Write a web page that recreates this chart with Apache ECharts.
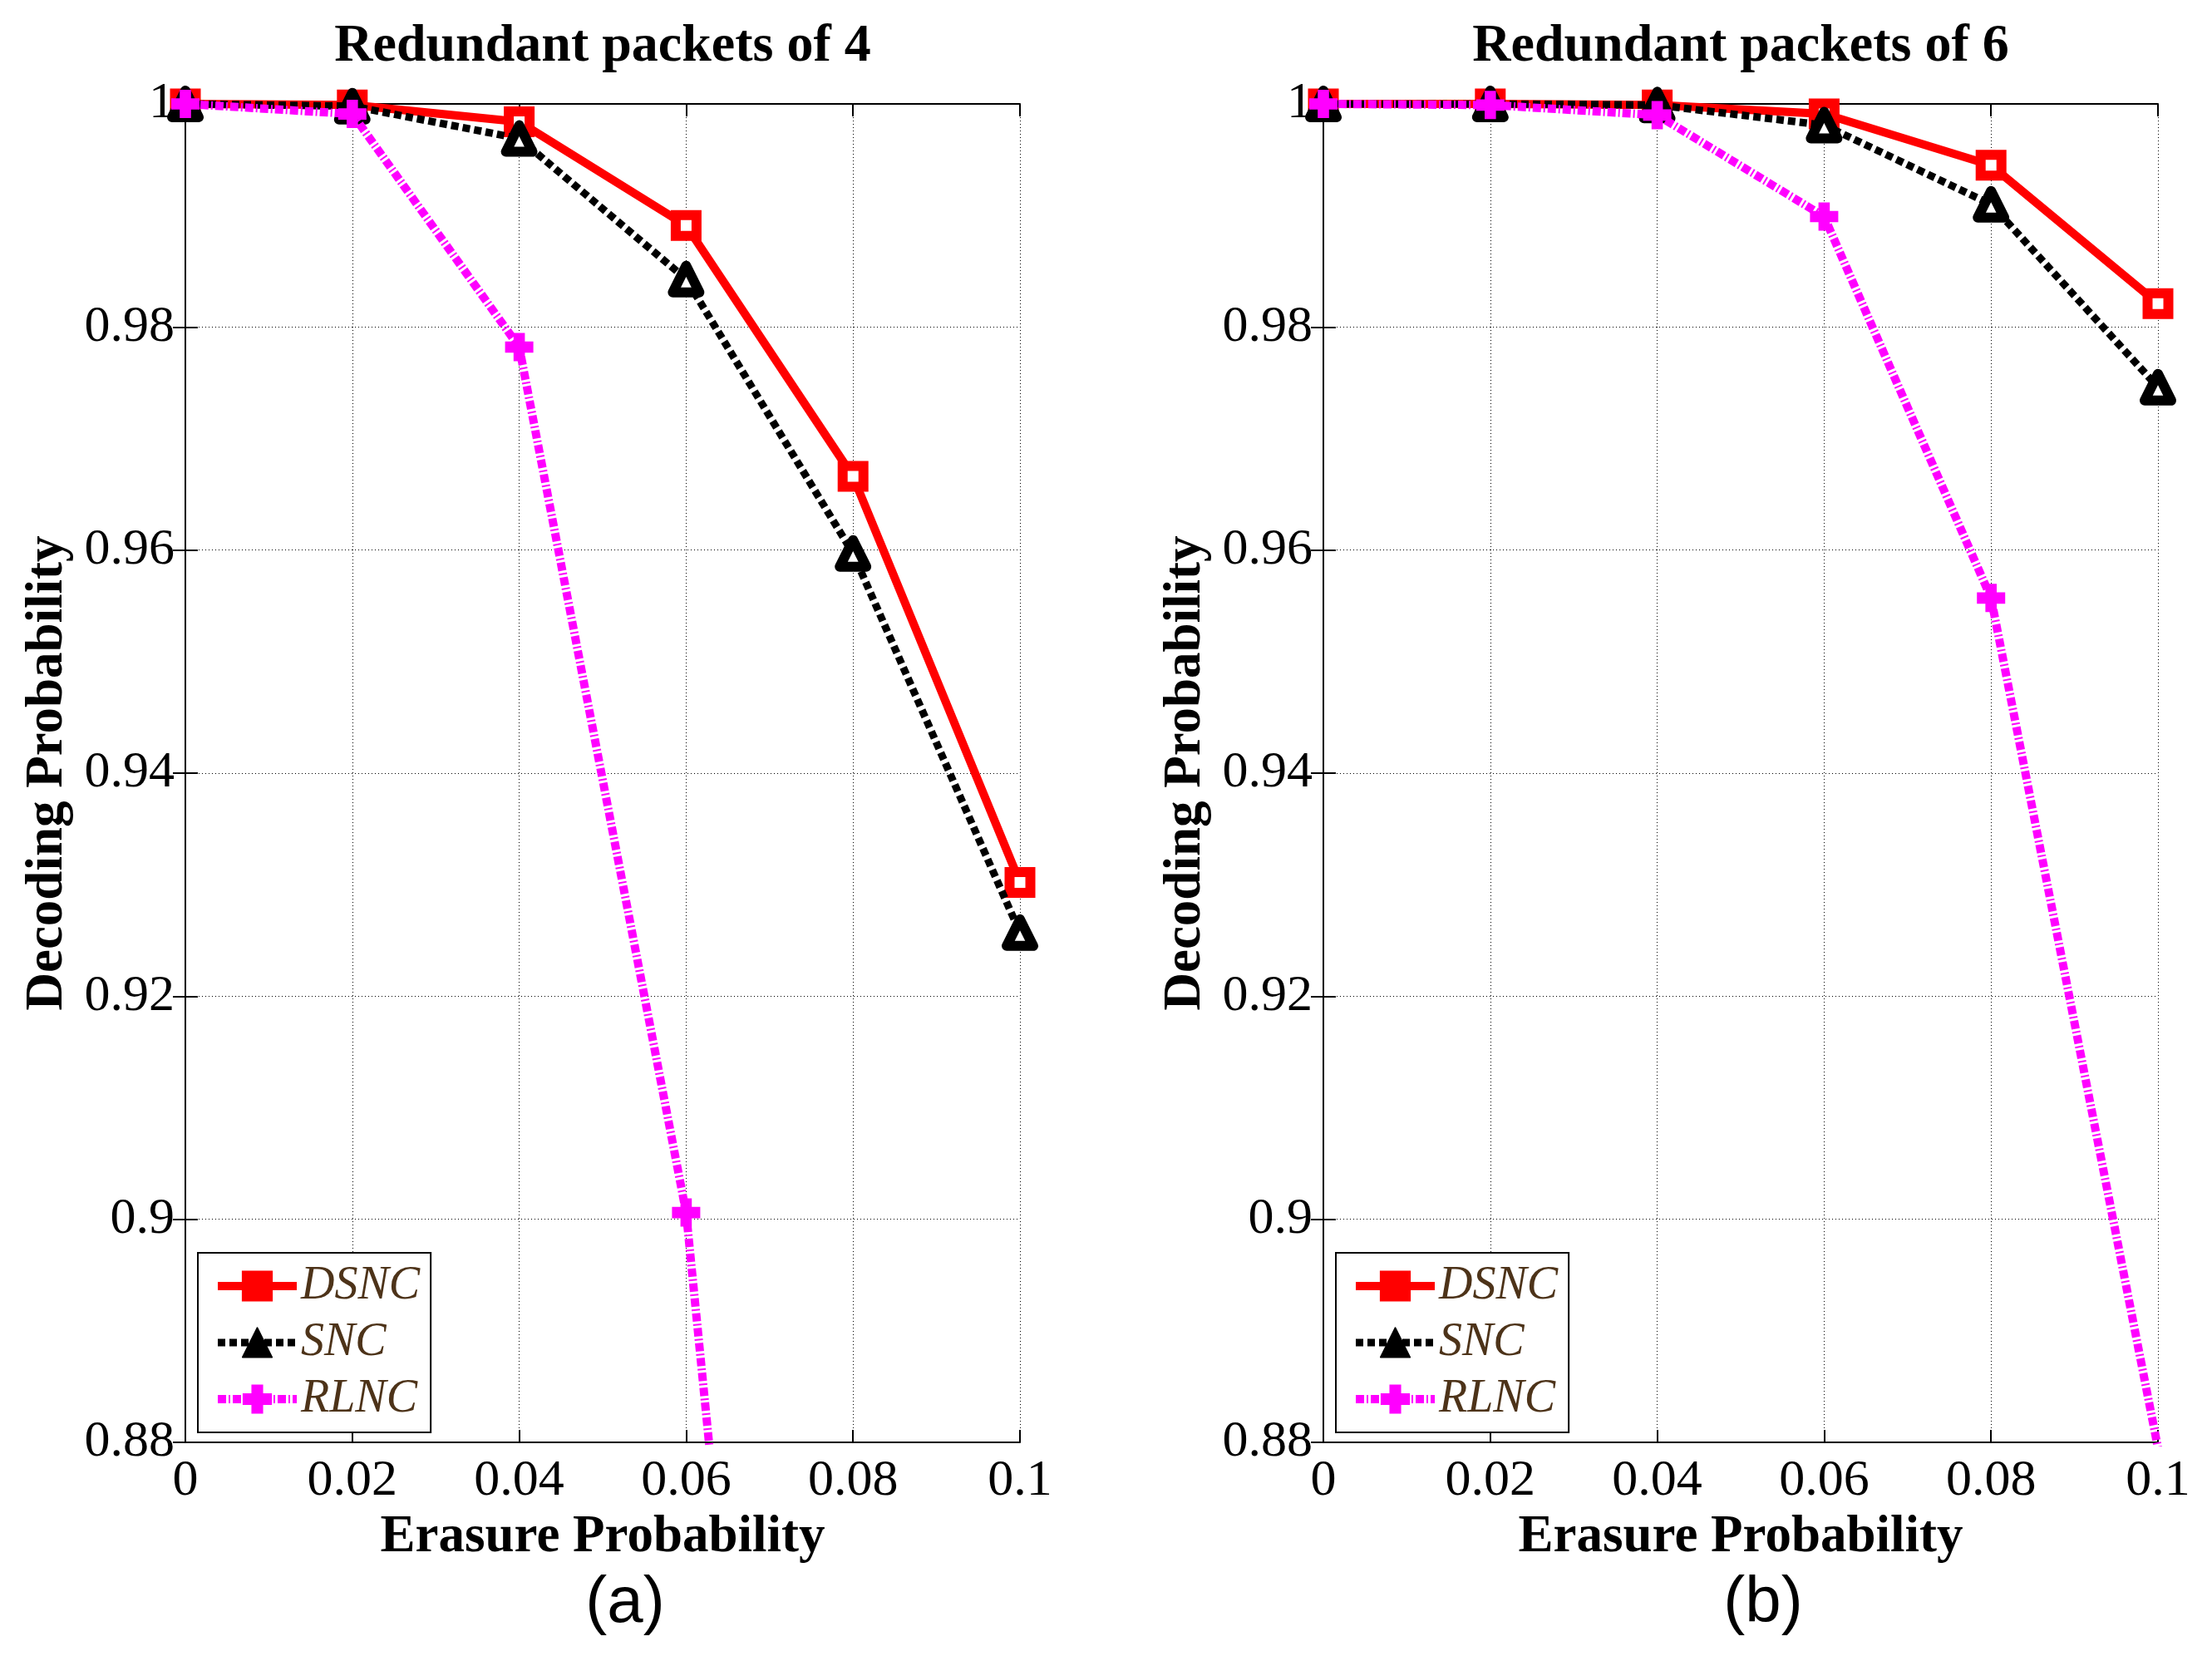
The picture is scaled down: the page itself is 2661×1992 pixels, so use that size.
<!DOCTYPE html>
<html>
<head>
<meta charset="utf-8">
<script src="https://cdn.jsdelivr.net/npm/echarts@6/dist/echarts.min.js"></script>
<style>
  html, body { margin: 0; padding: 0; background: #fff; }
  #chart { width: 2661px; height: 1992px; }
</style>
</head>
<body>
<div id="chart"></div>
<script>
// ---- data ----
const erasure = [0, 0.02, 0.04, 0.06, 0.08, 0.1];
const xTicks = ['0', '0.02', '0.04', '0.06', '0.08', '0.1'];
const yTicks = ['0.88', '0.9', '0.92', '0.94', '0.96', '0.98', '1'];
const seriesNames = ['DSNC', 'SNC', 'RLNC'];
const panelTitles = ['Redundant packets of 4', 'Redundant packets of 6'];
const panelLabels = ['(a)', '(b)'];

// panel (a): redundant packets of 4
const dsncA = [1.0, 0.9999, 0.9984, 0.9891, 0.9666, 0.9302];
const sncA  = [1.0, 0.9998, 0.9969, 0.9843, 0.9597, 0.9257];
const rlncA = [1.0, 0.9991, 0.9782, 0.9006, 0.75, 0.60];
// panel (b): redundant packets of 6
const dsncB = [1.0, 1.0, 0.9999, 0.9991, 0.9945, 0.9821];
const sncB  = [1.0, 1.0, 0.9999, 0.9981, 0.9910, 0.9746];
const rlncB = [1.0, 0.9999, 0.9990, 0.9899, 0.9557, 0.8795];

// ---- styles ----
const SERIF = 'Liberation Serif';
const SANS = 'Liberation Sans';
const gridLeft = [223, 1592];
const gridTop = 125, gridW = 1004, gridH = 1610;

const styleOf = {
  DSNC: {
    lineStyle: { color: '#FF0000', width: 10, type: 'solid' },
    symbol: 'rect', symbolSize: 25,
    itemStyle: { color: '#FFFFFF', borderColor: '#FF0000', borderWidth: 12 }
  },
  SNC: {
    lineStyle: { color: '#000000', width: 9, type: [9, 5], cap: 'butt' },
    symbol: 'triangle', symbolSize: 32,
    itemStyle: { color: '#FFFFFF', borderColor: '#000000', borderWidth: 12, borderJoin: 'round' }
  },
  RLNC: {
    lineStyle: { color: '#FF00FF', width: 10, type: [10, 3, 2, 3], cap: 'butt' },
    symbol: 'path://M3,0H7V3H10V7H7V10H3V7H0V3H3Z', symbolSize: 34,
    itemStyle: { color: '#FF00FF', borderWidth: 0 }
  }
};
const legendFill = { DSNC: '#FF0000', SNC: '#000000', RLNC: '#FF00FF' };

function pairs(arr) { return erasure.map((x, i) => [x, arr[i]]); }

const panelData = [[dsncA, sncA, rlncA], [dsncB, sncB, rlncB]];

const series = [];
panelData.forEach((arrs, p) => {
  arrs.forEach((arr, k) => {
    const name = seriesNames[k];
    const st = styleOf[name];
    series.push({
      name: name,
      type: 'line',
      xAxisIndex: p, yAxisIndex: p,
      data: pairs(arr),
      symbol: st.symbol,
      symbolSize: st.symbolSize,
      showAllSymbol: true,
      lineStyle: st.lineStyle,
      itemStyle: st.itemStyle,
      clip: true,
      z: 3 + k
    });
  });
});

const xMin = Number(xTicks[0]), xMax = Number(xTicks[xTicks.length - 1]);
const xInt = Number(xTicks[1]) - Number(xTicks[0]);
const yMin = Number(yTicks[0]), yMax = Number(yTicks[yTicks.length - 1]);
const yInt = Number(yTicks[1]) - Number(yTicks[0]);

const axisLineStyle = { show: true, lineStyle: { color: '#000', width: 2 } };
const tickStyle = { show: true, inside: true, length: 15, lineStyle: { color: '#000', width: 2 } };
const splitStyle = { show: true, lineStyle: { color: '#000', width: 1, type: [1, 3] } };

function bottomX(g) {
  return {
    type: 'value', gridIndex: g, position: 'bottom',
    min: xMin, max: xMax, interval: xInt,
    name: 'Erasure Probability', nameLocation: 'middle', nameGap: 82,
    nameTextStyle: { fontFamily: SERIF, fontWeight: 'bold', fontSize: 63, color: '#000' },
    axisLine: axisLineStyle, axisTick: tickStyle, splitLine: splitStyle,
    axisLabel: { show: true, margin: 16, fontFamily: SERIF, fontSize: 62, color: '#000',
      formatter: v => { const i = Math.round((v - xMin) / xInt); return xTicks[i]; } }
  };
}
function topX(g) {
  return {
    type: 'value', gridIndex: g, position: 'top',
    min: xMin, max: xMax, interval: xInt,
    axisLine: axisLineStyle, axisTick: tickStyle, splitLine: { show: false },
    axisLabel: { show: false }
  };
}
function leftY(g) {
  return {
    type: 'value', gridIndex: g, position: 'left',
    min: yMin, max: yMax, interval: yInt,
    name: 'Decoding Probability', nameLocation: 'middle', nameGap: 134,
    nameTextStyle: { fontFamily: SERIF, fontWeight: 'bold', fontSize: 63, color: '#000' },
    axisLine: axisLineStyle, axisTick: tickStyle, splitLine: splitStyle,
    axisLabel: { show: true, margin: 13, fontFamily: SERIF, fontSize: 62, color: '#000',
      formatter: v => { const i = Math.round((v - yMin) / yInt); return yTicks[i]; } }
  };
}
function rightY(g) {
  return {
    type: 'value', gridIndex: g, position: 'right',
    min: yMin, max: yMax, interval: yInt,
    axisLine: axisLineStyle, axisTick: tickStyle, splitLine: { show: false },
    axisLabel: { show: false }
  };
}

function legendAt(left) {
  return {
    orient: 'vertical',
    left: left, top: 1507,
    padding: [12, 13, 12, 19],
    itemGap: 12,
    itemWidth: 95, itemHeight: 44,
    backgroundColor: '#fff',
    borderColor: '#000', borderWidth: 2,
    selectedMode: false,
    textStyle: { fontFamily: SERIF, fontStyle: 'italic', fontSize: 56, color: '#4D3319', lineHeight: 50 },
    data: seriesNames.map(n => ({
      name: n,
      itemStyle: { color: legendFill[n], borderColor: legendFill[n] },
      lineStyle: { color: legendFill[n], width: styleOf[n].lineStyle.width, type: styleOf[n].lineStyle.type }
    }))
  };
}

const titles = [];
panelTitles.forEach((t, p) => {
  titles.push({
    text: t, left: gridLeft[p] + gridW / 2, top: 24, textAlign: 'center', padding: 0,
    textStyle: { fontFamily: SERIF, fontWeight: 'bold', fontSize: 64, color: '#000' }
  });
});
panelLabels.forEach((t, p) => {
  titles.push({
    text: t, left: gridLeft[p] + gridW / 2 + 27, top: 1890, textAlign: 'center', padding: 0,
    textStyle: { fontFamily: SANS, fontWeight: 'normal', fontSize: 78, color: '#000' }
  });
});

const option = {
  animation: false,
  backgroundColor: '#ffffff',
  title: titles,
  legend: [legendAt(gridLeft[0] + 15), legendAt(gridLeft[1] + 15)],
  grid: gridLeft.map(l => ({ left: l, top: gridTop, width: gridW, height: gridH, containLabel: false })),
  xAxis: [bottomX(0), bottomX(1), topX(0), topX(1)],
  yAxis: [leftY(0), leftY(1), rightY(0), rightY(1)],
  series: series
};

const chart = echarts.init(document.getElementById('chart'), null, { renderer: 'canvas' });
chart.setOption(option);
</script>
</body>
</html>
